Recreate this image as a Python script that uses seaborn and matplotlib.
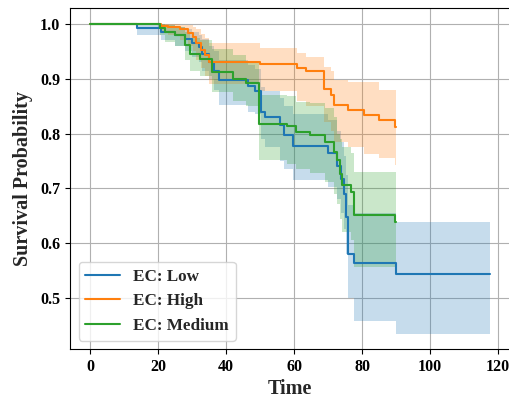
import numpy as np
import pandas as pd
import matplotlib
matplotlib.use("Agg")
import matplotlib.pyplot as plt
import seaborn as sns

# ---- data ----
groups = ["EC: Low", "EC: High", "EC: Medium"]
colors = ["#1f77b4", "#ff7f0e", "#2ca02c"]

t_low = [0, 13.8, 21, 25, 28, 30, 32, 33, 35, 36.5, 38, 46.5, 48.5, 50.3, 51.5, 55.8, 57,
         59.7, 70, 72.5, 73.9, 74.6, 75.4, 76, 77.5, 90]
s_low = [1.0, 0.993, 0.986, 0.979, 0.972, 0.965, 0.958, 0.945, 0.93, 0.915, 0.898, 0.886,
         0.877, 0.840, 0.831, 0.815, 0.797, 0.777, 0.765, 0.741, 0.718, 0.690, 0.648, 0.580,
         0.564, 0.543]
lo_low = [1.0, 0.98, 0.97, 0.96, 0.95, 0.94, 0.93, 0.915, 0.90, 0.88, 0.852, 0.84, 0.835,
          0.79, 0.775, 0.75, 0.735, 0.715, 0.703, 0.68, 0.655, 0.625, 0.58, 0.50, 0.458, 0.435]
hi_low = [1.0, 1.0, 0.998, 0.995, 0.99, 0.985, 0.98, 0.972, 0.96, 0.95, 0.935, 0.925, 0.918,
          0.885, 0.877, 0.865, 0.85, 0.835, 0.825, 0.805, 0.785, 0.76, 0.725, 0.67, 0.655, 0.639]
end_low = 117.6

t_high = [0, 21, 22.8, 26.4, 28.7, 30.2, 31.3, 32.7, 33.7, 35.1, 50, 61, 63.5, 68.8, 70.8,
          71.8, 75.8, 80.7, 85, 89.8]
s_high = [1.0, 0.997, 0.994, 0.99, 0.984, 0.977, 0.965, 0.952, 0.943, 0.931, 0.927, 0.92,
          0.914, 0.882, 0.870, 0.853, 0.843, 0.834, 0.825, 0.812]
lo_high = [1.0, 0.985, 0.98, 0.97, 0.96, 0.95, 0.935, 0.92, 0.905, 0.89, 0.877, 0.86, 0.85,
           0.822, 0.805, 0.785, 0.775, 0.763, 0.755, 0.742]
hi_high = [1.0, 1.0, 1.0, 0.999, 0.998, 0.995, 0.99, 0.982, 0.975, 0.965, 0.957, 0.947, 0.94,
           0.922, 0.915, 0.898, 0.895, 0.895, 0.88, 0.879]
end_high = 90.0

t_med = [0, 20.5, 22, 25, 27.8, 29.3, 32.4, 36, 42, 46, 49.6, 57.8, 60.6, 64.6, 69, 71.7,
         72.7, 73.5, 74.2, 76.6, 77.6, 89.8]
s_med = [1.0, 0.993, 0.985, 0.98, 0.962, 0.945, 0.937, 0.913, 0.90, 0.893, 0.818, 0.813,
         0.803, 0.797, 0.785, 0.767, 0.751, 0.727, 0.706, 0.693, 0.651, 0.639]
lo_med = [1.0, 0.98, 0.968, 0.96, 0.935, 0.915, 0.905, 0.875, 0.86, 0.85, 0.752, 0.745,
          0.735, 0.728, 0.712, 0.69, 0.672, 0.645, 0.62, 0.605, 0.557, 0.557]
hi_med = [1.0, 1.0, 0.998, 0.995, 0.985, 0.975, 0.97, 0.955, 0.943, 0.93, 0.87, 0.868,
          0.858, 0.855, 0.846, 0.83, 0.80, 0.79, 0.775, 0.765, 0.73, 0.73]
end_med = 90.0

x_ticks = [0, 20, 40, 60, 80, 100, 120]
y_ticks = [0.5, 0.6, 0.7, 0.8, 0.9, 1.0]

# ---- build tables ----
series = [
    (t_low, s_low, lo_low, hi_low, end_low),
    (t_high, s_high, lo_high, hi_high, end_high),
    (t_med, s_med, lo_med, hi_med, end_med),
]
frames = []
for g, (t, s, lo, hi, end) in zip(groups, series):
    tt = list(t) + [end]
    ss = list(s) + [s[-1]]
    frames.append(pd.DataFrame({"Time": tt, "Survival Probability": ss, "group": g}))
df = pd.concat(frames, ignore_index=True)

sns.set_style("ticks", {"axes.grid": True, "grid.color": "#b0b0b0",
                        "axes.edgecolor": "black", "xtick.color": "black",
                        "ytick.color": "black"})
plt.rcParams["font.family"] = ["Liberation Serif", "DejaVu Serif"]
plt.rcParams["font.weight"] = "bold"
plt.rcParams["axes.labelweight"] = "bold"

fig = plt.figure(figsize=(5.1, 4.0), dpi=100)
ax = fig.add_axes([70 / 510, 1 - 349.3 / 400, (510 - 70) / 510, (349.3 - 7.7) / 400])

for g, c, (t, s, lo, hi, end) in zip(groups, colors, series):
    tt = np.array(list(t) + [end])
    ax.fill_between(tt, list(lo) + [lo[-1]], list(hi) + [hi[-1]], step="post",
                    color=c, alpha=0.25, linewidth=0)

sns.lineplot(data=df, x="Time", y="Survival Probability", hue="group",
             hue_order=groups, palette=colors, estimator=None, sort=True,
             drawstyle="steps-post", linewidth=1.5, ax=ax)

ax.set_xlim(-5.9, 123.5)
ax.set_ylim(0.4064, 1.0297)
ax.set_xticks(x_ticks)
ax.set_yticks(y_ticks)
ax.set_xticklabels([str(v) for v in x_ticks])
ax.set_yticklabels([f"{v:.1f}" for v in y_ticks])
for lab in ax.get_xticklabels() + ax.get_yticklabels():
    lab.set_fontweight("bold")
    lab.set_fontsize(11.5)
ax.set_xlabel("Time", fontsize=14.5, fontweight="bold", labelpad=3)
ax.set_ylabel("Survival Probability", fontsize=14.5, fontweight="bold", labelpad=5)
for name, sp in ax.spines.items():
    sp.set_color("black")
    sp.set_visible(name != "right")

leg = ax.get_legend()
handles = leg.legend_handles
labels = [t.get_text() for t in leg.get_texts()]
leg.remove()
ax.legend(handles, labels, loc="lower left",
          prop={"family": ["Liberation Serif", "DejaVu Serif"], "weight": "bold", "size": 12.3})

fig.savefig("out.png", dpi=100)
